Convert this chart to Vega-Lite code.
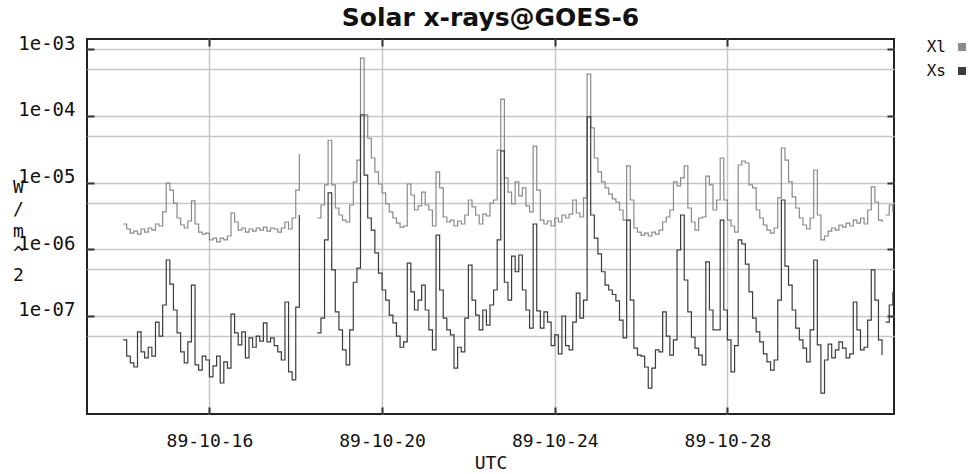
{
  "$schema": "https://vega.github.io/schema/vega-lite/v6.json",
  "width": 807,
  "height": 375,
  "autosize": {"type": "none"},
  "padding": {"left": 87, "top": 39, "right": 74, "bottom": 60},
  "background": "white",
  "title": {"text": "Solar x-rays@GOES-6", "font": "DejaVu Sans", "fontSize": 25, "fontWeight": "bold", "color": "#111111", "anchor": "middle", "frame": "group", "offset": 3},
  "data": {"values": [
    {"t":"1989-10-14T00:00Z","xl":2.39e-6,"xs":4.4e-8,"seg":"a"},
    {"t":"1989-10-14T02:00Z","xl":2.01e-6,"xs":2.5e-8,"seg":"a"},
    {"t":"1989-10-14T04:00Z","xl":1.75e-6,"xs":1.98e-8,"seg":"a"},
    {"t":"1989-10-14T06:00Z","xl":1.87e-6,"xs":1.72e-8,"seg":"a"},
    {"t":"1989-10-14T08:00Z","xl":1.69e-6,"xs":5.8e-8,"seg":"a"},
    {"t":"1989-10-14T10:00Z","xl":2.01e-6,"xs":2.9e-8,"seg":"a"},
    {"t":"1989-10-14T12:00Z","xl":1.81e-6,"xs":2.35e-8,"seg":"a"},
    {"t":"1989-10-14T14:00Z","xl":2.08e-6,"xs":3.4e-8,"seg":"a"},
    {"t":"1989-10-14T16:00Z","xl":1.94e-6,"xs":2.5e-8,"seg":"a"},
    {"t":"1989-10-14T18:00Z","xl":2.39e-6,"xs":8.1e-8,"seg":"a"},
    {"t":"1989-10-14T20:00Z","xl":2.23e-6,"xs":5.0e-8,"seg":"a"},
    {"t":"1989-10-14T22:00Z","xl":3.62e-6,"xs":1.46e-7,"seg":"a"},
    {"t":"1989-10-15T00:00Z","xl":9.8e-6,"xs":6.9e-7,"seg":"a"},
    {"t":"1989-10-15T02:00Z","xl":7.7e-6,"xs":3.0e-7,"seg":"a"},
    {"t":"1989-10-15T04:00Z","xl":4.9e-6,"xs":1.23e-7,"seg":"a"},
    {"t":"1989-10-15T06:00Z","xl":2.94e-6,"xs":5.6e-8,"seg":"a"},
    {"t":"1989-10-15T08:00Z","xl":2.31e-6,"xs":2.9e-8,"seg":"a"},
    {"t":"1989-10-15T10:00Z","xl":2.08e-6,"xs":1.98e-8,"seg":"a"},
    {"t":"1989-10-15T12:00Z","xl":2.65e-6,"xs":4.1e-8,"seg":"a"},
    {"t":"1989-10-15T14:00Z","xl":5.3e-6,"xs":2.9e-7,"seg":"a"},
    {"t":"1989-10-15T16:00Z","xl":2.39e-6,"xs":1.85e-8,"seg":"a"},
    {"t":"1989-10-15T18:00Z","xl":1.81e-6,"xs":1.55e-8,"seg":"a"},
    {"t":"1989-10-15T20:00Z","xl":1.69e-6,"xs":2.5e-8,"seg":"a"},
    {"t":"1989-10-15T22:00Z","xl":1.75e-6,"xs":2.19e-8,"seg":"a"},
    {"t":"1989-10-16T00:00Z","xl":1.38e-6,"xs":1.22e-8,"seg":"a"},
    {"t":"1989-10-16T02:00Z","xl":1.47e-6,"xs":1.79e-8,"seg":"a"},
    {"t":"1989-10-16T04:00Z","xl":1.29e-6,"xs":2.5e-8,"seg":"a"},
    {"t":"1989-10-16T06:00Z","xl":1.47e-6,"xs":9.9e-9,"seg":"a"},
    {"t":"1989-10-16T08:00Z","xl":1.38e-6,"xs":2.05e-8,"seg":"a"},
    {"t":"1989-10-16T10:00Z","xl":1.58e-6,"xs":1.66e-8,"seg":"a"},
    {"t":"1989-10-16T12:00Z","xl":3.49e-6,"xs":1.07e-7,"seg":"a"},
    {"t":"1989-10-16T14:00Z","xl":2.56e-6,"xs":5.6e-8,"seg":"a"},
    {"t":"1989-10-16T16:00Z","xl":1.94e-6,"xs":3.7e-8,"seg":"a"},
    {"t":"1989-10-16T18:00Z","xl":2.08e-6,"xs":5.8e-8,"seg":"a"},
    {"t":"1989-10-16T20:00Z","xl":1.81e-6,"xs":2.35e-8,"seg":"a"},
    {"t":"1989-10-16T22:00Z","xl":2.01e-6,"xs":4.7e-8,"seg":"a"},
    {"t":"1989-10-17T00:00Z","xl":1.87e-6,"xs":3.4e-8,"seg":"a"},
    {"t":"1989-10-17T02:00Z","xl":2.08e-6,"xs":5.0e-8,"seg":"a"},
    {"t":"1989-10-17T04:00Z","xl":1.94e-6,"xs":4.2e-8,"seg":"a"},
    {"t":"1989-10-17T06:00Z","xl":2.15e-6,"xs":7.9e-8,"seg":"a"},
    {"t":"1989-10-17T08:00Z","xl":1.87e-6,"xs":4.1e-8,"seg":"a"},
    {"t":"1989-10-17T10:00Z","xl":2.08e-6,"xs":4.7e-8,"seg":"a"},
    {"t":"1989-10-17T12:00Z","xl":2.01e-6,"xs":3.6e-8,"seg":"a"},
    {"t":"1989-10-17T14:00Z","xl":1.81e-6,"xs":2.9e-8,"seg":"a"},
    {"t":"1989-10-17T16:00Z","xl":2.08e-6,"xs":2.19e-8,"seg":"a"},
    {"t":"1989-10-17T18:00Z","xl":2.56e-6,"xs":1.62e-7,"seg":"a"},
    {"t":"1989-10-17T20:00Z","xl":2.01e-6,"xs":1.45e-8,"seg":"a"},
    {"t":"1989-10-17T22:00Z","xl":2.94e-6,"xs":1.1e-8,"seg":"a"},
    {"t":"1989-10-18T00:00Z","xl":7.7e-6,"xs":1.36e-7,"seg":"a"},
    {"t":"1989-10-18T02:00Z","xl":2.67e-5,"xs":3.26e-6,"seg":"a"},
    {"t":"1989-10-18T12:00Z","xl":2.94e-6,"xs":5.6e-8,"seg":"b"},
    {"t":"1989-10-18T14:00Z","xl":4.6e-6,"xs":9.3e-8,"seg":"b"},
    {"t":"1989-10-18T16:00Z","xl":9.2e-6,"xs":1.38e-6,"seg":"b"},
    {"t":"1989-10-18T18:00Z","xl":4.3e-5,"xs":7.0e-6,"seg":"b"},
    {"t":"1989-10-18T20:00Z","xl":9.2e-6,"xs":4.9e-7,"seg":"b"},
    {"t":"1989-10-18T22:00Z","xl":4.15e-6,"xs":1.15e-7,"seg":"b"},
    {"t":"1989-10-19T00:00Z","xl":3.26e-6,"xs":6.2e-8,"seg":"b"},
    {"t":"1989-10-19T02:00Z","xl":2.74e-6,"xs":3.1e-8,"seg":"b"},
    {"t":"1989-10-19T04:00Z","xl":2.56e-6,"xs":1.85e-8,"seg":"b"},
    {"t":"1989-10-19T06:00Z","xl":4.6e-6,"xs":6.2e-8,"seg":"b"},
    {"t":"1989-10-19T08:00Z","xl":1.02e-5,"xs":3.2e-7,"seg":"b"},
    {"t":"1989-10-19T10:00Z","xl":2.17e-5,"xs":5.2e-7,"seg":"b"},
    {"t":"1989-10-19T12:00Z","xl":7.3e-4,"xs":1.03e-4,"seg":"b"},
    {"t":"1989-10-19T14:00Z","xl":1.03e-4,"xs":1.29e-5,"seg":"b"},
    {"t":"1989-10-19T16:00Z","xl":4.6e-5,"xs":2.94e-6,"seg":"b"},
    {"t":"1989-10-19T18:00Z","xl":2.33e-5,"xs":1.94e-6,"seg":"b"},
    {"t":"1989-10-19T20:00Z","xl":1.44e-5,"xs":8.8e-7,"seg":"b"},
    {"t":"1989-10-19T22:00Z","xl":9.5e-6,"xs":4.4e-7,"seg":"b"},
    {"t":"1989-10-20T00:00Z","xl":7.0e-6,"xs":2.45e-7,"seg":"b"},
    {"t":"1989-10-20T02:00Z","xl":4.77e-6,"xs":1.73e-7,"seg":"b"},
    {"t":"1989-10-20T04:00Z","xl":3.62e-6,"xs":1.03e-7,"seg":"b"},
    {"t":"1989-10-20T06:00Z","xl":2.94e-6,"xs":7.9e-8,"seg":"b"},
    {"t":"1989-10-20T08:00Z","xl":2.47e-6,"xs":5.0e-8,"seg":"b"},
    {"t":"1989-10-20T10:00Z","xl":2.15e-6,"xs":3.4e-8,"seg":"b"},
    {"t":"1989-10-20T12:00Z","xl":2.23e-6,"xs":4.1e-8,"seg":"b"},
    {"t":"1989-10-20T14:00Z","xl":9.5e-6,"xs":6.2e-7,"seg":"b"},
    {"t":"1989-10-20T16:00Z","xl":6.5e-6,"xs":2.3e-7,"seg":"b"},
    {"t":"1989-10-20T18:00Z","xl":3.87e-6,"xs":1.23e-7,"seg":"b"},
    {"t":"1989-10-20T20:00Z","xl":4.45e-6,"xs":1.73e-7,"seg":"b"},
    {"t":"1989-10-20T22:00Z","xl":7.2e-6,"xs":2.9e-7,"seg":"b"},
    {"t":"1989-10-21T00:00Z","xl":4.6e-6,"xs":1.23e-7,"seg":"b"},
    {"t":"1989-10-21T02:00Z","xl":3.87e-6,"xs":6.2e-8,"seg":"b"},
    {"t":"1989-10-21T04:00Z","xl":2.23e-6,"xs":3.1e-8,"seg":"b"},
    {"t":"1989-10-21T06:00Z","xl":1.44e-5,"xs":1.63e-6,"seg":"b"},
    {"t":"1989-10-21T08:00Z","xl":8.3e-6,"xs":2.45e-7,"seg":"b"},
    {"t":"1989-10-21T10:00Z","xl":3.04e-6,"xs":9.3e-8,"seg":"b"},
    {"t":"1989-10-21T12:00Z","xl":2.56e-6,"xs":6.2e-8,"seg":"b"},
    {"t":"1989-10-21T14:00Z","xl":2.74e-6,"xs":5.2e-8,"seg":"b"},
    {"t":"1989-10-21T16:00Z","xl":2.23e-6,"xs":1.66e-8,"seg":"b"},
    {"t":"1989-10-21T18:00Z","xl":2.65e-6,"xs":3.4e-8,"seg":"b"},
    {"t":"1989-10-21T20:00Z","xl":2.39e-6,"xs":2.9e-8,"seg":"b"},
    {"t":"1989-10-21T22:00Z","xl":3.26e-6,"xs":9.3e-8,"seg":"b"},
    {"t":"1989-10-22T00:00Z","xl":5.47e-6,"xs":5.8e-7,"seg":"b"},
    {"t":"1989-10-22T02:00Z","xl":4.3e-6,"xs":1.73e-7,"seg":"b"},
    {"t":"1989-10-22T04:00Z","xl":3.26e-6,"xs":1.03e-7,"seg":"b"},
    {"t":"1989-10-22T06:00Z","xl":2.39e-6,"xs":6.2e-8,"seg":"b"},
    {"t":"1989-10-22T08:00Z","xl":3.37e-6,"xs":1.23e-7,"seg":"b"},
    {"t":"1989-10-22T10:00Z","xl":3.15e-6,"xs":7.3e-8,"seg":"b"},
    {"t":"1989-10-22T12:00Z","xl":4.93e-6,"xs":1.46e-7,"seg":"b"},
    {"t":"1989-10-22T14:00Z","xl":5.47e-6,"xs":2.45e-7,"seg":"b"},
    {"t":"1989-10-22T16:00Z","xl":3.07e-5,"xs":1.38e-6,"seg":"b"},
    {"t":"1989-10-22T18:00Z","xl":1.78e-4,"xs":2.97e-5,"seg":"b"},
    {"t":"1989-10-22T20:00Z","xl":1.17e-5,"xs":3.2e-7,"seg":"b"},
    {"t":"1989-10-22T22:00Z","xl":7.2e-6,"xs":1.73e-7,"seg":"b"},
    {"t":"1989-10-23T00:00Z","xl":4.77e-6,"xs":7.9e-7,"seg":"b"},
    {"t":"1989-10-23T02:00Z","xl":1.02e-5,"xs":4.6e-7,"seg":"b"},
    {"t":"1989-10-23T04:00Z","xl":6.3e-6,"xs":8.2e-7,"seg":"b"},
    {"t":"1989-10-23T06:00Z","xl":8.3e-6,"xs":2.45e-7,"seg":"b"},
    {"t":"1989-10-23T08:00Z","xl":4.45e-6,"xs":1.23e-7,"seg":"b"},
    {"t":"1989-10-23T10:00Z","xl":3.62e-6,"xs":6.6e-8,"seg":"b"},
    {"t":"1989-10-23T12:00Z","xl":3.52e-5,"xs":2.39e-6,"seg":"b"},
    {"t":"1989-10-23T14:00Z","xl":7.7e-6,"xs":1.19e-7,"seg":"b"},
    {"t":"1989-10-23T16:00Z","xl":2.74e-6,"xs":6.6e-8,"seg":"b"},
    {"t":"1989-10-23T18:00Z","xl":2.39e-6,"xs":1.15e-7,"seg":"b"},
    {"t":"1989-10-23T20:00Z","xl":2.65e-6,"xs":8.1e-8,"seg":"b"},
    {"t":"1989-10-23T22:00Z","xl":2.23e-6,"xs":3.6e-8,"seg":"b"},
    {"t":"1989-10-24T00:00Z","xl":2.94e-6,"xs":5.2e-8,"seg":"b"},
    {"t":"1989-10-24T02:00Z","xl":2.56e-6,"xs":2.7e-8,"seg":"b"},
    {"t":"1989-10-24T04:00Z","xl":3.26e-6,"xs":1.0e-7,"seg":"b"},
    {"t":"1989-10-24T06:00Z","xl":2.94e-6,"xs":3.6e-8,"seg":"b"},
    {"t":"1989-10-24T08:00Z","xl":3.37e-6,"xs":3.1e-8,"seg":"b"},
    {"t":"1989-10-24T10:00Z","xl":5.47e-6,"xs":8.1e-8,"seg":"b"},
    {"t":"1989-10-24T12:00Z","xl":3.49e-6,"xs":2.2e-7,"seg":"b"},
    {"t":"1989-10-24T14:00Z","xl":3.04e-6,"xs":9.3e-8,"seg":"b"},
    {"t":"1989-10-24T16:00Z","xl":5.9e-6,"xs":1.73e-7,"seg":"b"},
    {"t":"1989-10-24T18:00Z","xl":4.22e-4,"xs":9.6e-5,"seg":"b"},
    {"t":"1989-10-24T20:00Z","xl":6.6e-5,"xs":3.26e-6,"seg":"b"},
    {"t":"1989-10-24T22:00Z","xl":2.33e-5,"xs":1.47e-6,"seg":"b"},
    {"t":"1989-10-25T00:00Z","xl":1.44e-5,"xs":8.5e-7,"seg":"b"},
    {"t":"1989-10-25T02:00Z","xl":1.02e-5,"xs":4.6e-7,"seg":"b"},
    {"t":"1989-10-25T04:00Z","xl":8.3e-6,"xs":2.9e-7,"seg":"b"},
    {"t":"1989-10-25T06:00Z","xl":6.7e-6,"xs":2.45e-7,"seg":"b"},
    {"t":"1989-10-25T08:00Z","xl":5.7e-6,"xs":2.1e-7,"seg":"b"},
    {"t":"1989-10-25T10:00Z","xl":5.1e-6,"xs":1.68e-7,"seg":"b"},
    {"t":"1989-10-25T12:00Z","xl":3.87e-6,"xs":8.7e-8,"seg":"b"},
    {"t":"1989-10-25T14:00Z","xl":2.74e-6,"xs":4.7e-8,"seg":"b"},
    {"t":"1989-10-25T16:00Z","xl":1.77e-5,"xs":2.74e-6,"seg":"b"},
    {"t":"1989-10-25T18:00Z","xl":5.47e-6,"xs":1.73e-7,"seg":"b"},
    {"t":"1989-10-25T20:00Z","xl":2.08e-6,"xs":3.3e-8,"seg":"b"},
    {"t":"1989-10-25T22:00Z","xl":1.81e-6,"xs":2.6e-8,"seg":"b"},
    {"t":"1989-10-26T00:00Z","xl":1.63e-6,"xs":2.5e-8,"seg":"b"},
    {"t":"1989-10-26T02:00Z","xl":1.75e-6,"xs":1.72e-8,"seg":"b"},
    {"t":"1989-10-26T04:00Z","xl":1.58e-6,"xs":8.3e-9,"seg":"b"},
    {"t":"1989-10-26T06:00Z","xl":1.81e-6,"xs":1.66e-8,"seg":"b"},
    {"t":"1989-10-26T08:00Z","xl":1.69e-6,"xs":3.1e-8,"seg":"b"},
    {"t":"1989-10-26T10:00Z","xl":1.94e-6,"xs":2.9e-8,"seg":"b"},
    {"t":"1989-10-26T12:00Z","xl":2.56e-6,"xs":1.15e-7,"seg":"b"},
    {"t":"1989-10-26T14:00Z","xl":3.04e-6,"xs":5.0e-8,"seg":"b"},
    {"t":"1989-10-26T16:00Z","xl":3.87e-6,"xs":2.6e-8,"seg":"b"},
    {"t":"1989-10-26T18:00Z","xl":1.02e-5,"xs":4.4e-8,"seg":"b"},
    {"t":"1989-10-26T20:00Z","xl":8.9e-6,"xs":9.75e-7,"seg":"b"},
    {"t":"1989-10-26T22:00Z","xl":1.17e-5,"xs":3.26e-6,"seg":"b"},
    {"t":"1989-10-27T00:00Z","xl":1.77e-5,"xs":3.46e-7,"seg":"b"},
    {"t":"1989-10-27T02:00Z","xl":4.15e-6,"xs":1.15e-7,"seg":"b"},
    {"t":"1989-10-27T04:00Z","xl":2.56e-6,"xs":4.8e-8,"seg":"b"},
    {"t":"1989-10-27T06:00Z","xl":1.94e-6,"xs":3.3e-8,"seg":"b"},
    {"t":"1989-10-27T08:00Z","xl":2.94e-6,"xs":2.6e-8,"seg":"b"},
    {"t":"1989-10-27T10:00Z","xl":3.04e-6,"xs":1.85e-8,"seg":"b"},
    {"t":"1989-10-27T12:00Z","xl":1.25e-5,"xs":6.45e-7,"seg":"b"},
    {"t":"1989-10-27T14:00Z","xl":9.2e-6,"xs":1.23e-7,"seg":"b"},
    {"t":"1989-10-27T16:00Z","xl":3.87e-6,"xs":6.2e-8,"seg":"b"},
    {"t":"1989-10-27T18:00Z","xl":5.47e-6,"xs":6.2e-8,"seg":"b"},
    {"t":"1989-10-27T20:00Z","xl":2.33e-5,"xs":2.74e-6,"seg":"b"},
    {"t":"1989-10-27T22:00Z","xl":5.47e-6,"xs":1.23e-7,"seg":"b"},
    {"t":"1989-10-28T00:00Z","xl":2.74e-6,"xs":4.4e-8,"seg":"b"},
    {"t":"1989-10-28T02:00Z","xl":2.23e-6,"xs":1.45e-8,"seg":"b"},
    {"t":"1989-10-28T04:00Z","xl":1.81e-6,"xs":3.6e-8,"seg":"b"},
    {"t":"1989-10-28T06:00Z","xl":1.83e-5,"xs":1.38e-6,"seg":"b"},
    {"t":"1989-10-28T08:00Z","xl":2.1e-5,"xs":1.2e-6,"seg":"b"},
    {"t":"1989-10-28T10:00Z","xl":1.96e-5,"xs":6.0e-7,"seg":"b"},
    {"t":"1989-10-28T12:00Z","xl":9.2e-6,"xs":2.3e-7,"seg":"b"},
    {"t":"1989-10-28T14:00Z","xl":8.3e-6,"xs":9.3e-8,"seg":"b"},
    {"t":"1989-10-28T16:00Z","xl":3.87e-6,"xs":5.8e-8,"seg":"b"},
    {"t":"1989-10-28T18:00Z","xl":2.94e-6,"xs":4.1e-8,"seg":"b"},
    {"t":"1989-10-28T20:00Z","xl":2.31e-6,"xs":2.7e-8,"seg":"b"},
    {"t":"1989-10-28T22:00Z","xl":1.94e-6,"xs":2.05e-8,"seg":"b"},
    {"t":"1989-10-29T00:00Z","xl":1.75e-6,"xs":1.55e-8,"seg":"b"},
    {"t":"1989-10-29T02:00Z","xl":2.08e-6,"xs":2.19e-8,"seg":"b"},
    {"t":"1989-10-29T04:00Z","xl":5.9e-6,"xs":1.73e-7,"seg":"b"},
    {"t":"1989-10-29T06:00Z","xl":3.29e-5,"xs":5.47e-6,"seg":"b"},
    {"t":"1989-10-29T08:00Z","xl":2.17e-5,"xs":5.6e-7,"seg":"b"},
    {"t":"1989-10-29T10:00Z","xl":1.02e-5,"xs":2.9e-7,"seg":"b"},
    {"t":"1989-10-29T12:00Z","xl":6.1e-6,"xs":1.23e-7,"seg":"b"},
    {"t":"1989-10-29T14:00Z","xl":4.15e-6,"xs":6.6e-8,"seg":"b"},
    {"t":"1989-10-29T16:00Z","xl":2.94e-6,"xs":4.4e-8,"seg":"b"},
    {"t":"1989-10-29T18:00Z","xl":2.31e-6,"xs":3.3e-8,"seg":"b"},
    {"t":"1989-10-29T20:00Z","xl":2.01e-6,"xs":2.05e-8,"seg":"b"},
    {"t":"1989-10-29T22:00Z","xl":2.94e-6,"xs":6.2e-8,"seg":"b"},
    {"t":"1989-10-30T00:00Z","xl":1.54e-5,"xs":6.9e-7,"seg":"b"},
    {"t":"1989-10-30T02:00Z","xl":3.26e-6,"xs":3.7e-8,"seg":"b"},
    {"t":"1989-10-30T04:00Z","xl":1.38e-6,"xs":7.0e-9,"seg":"b"},
    {"t":"1989-10-30T06:00Z","xl":1.58e-6,"xs":2.19e-8,"seg":"b"},
    {"t":"1989-10-30T08:00Z","xl":1.87e-6,"xs":3.8e-8,"seg":"b"},
    {"t":"1989-10-30T10:00Z","xl":2.08e-6,"xs":2.35e-8,"seg":"b"},
    {"t":"1989-10-30T12:00Z","xl":1.94e-6,"xs":3.1e-8,"seg":"b"},
    {"t":"1989-10-30T14:00Z","xl":2.31e-6,"xs":4.1e-8,"seg":"b"},
    {"t":"1989-10-30T16:00Z","xl":2.15e-6,"xs":3.3e-8,"seg":"b"},
    {"t":"1989-10-30T18:00Z","xl":2.47e-6,"xs":2.35e-8,"seg":"b"},
    {"t":"1989-10-30T20:00Z","xl":2.23e-6,"xs":2.7e-8,"seg":"b"},
    {"t":"1989-10-30T22:00Z","xl":2.74e-6,"xs":1.62e-7,"seg":"b"},
    {"t":"1989-10-31T00:00Z","xl":2.47e-6,"xs":6.2e-8,"seg":"b"},
    {"t":"1989-10-31T02:00Z","xl":2.94e-6,"xs":3.1e-8,"seg":"b"},
    {"t":"1989-10-31T04:00Z","xl":2.39e-6,"xs":3.4e-8,"seg":"b"},
    {"t":"1989-10-31T06:00Z","xl":3.87e-6,"xs":8.7e-8,"seg":"b"},
    {"t":"1989-10-31T08:00Z","xl":8.6e-6,"xs":4.9e-7,"seg":"b"},
    {"t":"1989-10-31T10:00Z","xl":5.1e-6,"xs":1.73e-7,"seg":"b"},
    {"t":"1989-10-31T12:00Z","xl":2.74e-6,"xs":4.4e-8,"seg":"b"},
    {"t":"1989-10-31T14:00Z","xl":2.56e-6,"xs":2.6e-8,"seg":"b"},
    {"t":"1989-10-31T16:00Z","xl":3.26e-6,"xs":8.1e-8,"seg":"c"},
    {"t":"1989-10-31T18:00Z","xl":4.6e-6,"xs":1.46e-7,"seg":"c"},
    {"t":"1989-10-31T20:00Z","xl":3.62e-6,"xs":2.3e-7,"seg":"c"}
  ]},
  "layer": [
    {
      "mark": {"type": "line", "interpolate": "step-after", "strokeWidth": 1.2, "clip": true},
      "encoding": {
        "x": {"field": "t", "type": "temporal",
          "scale": {"type": "utc", "nice": false, "domain": [{"year": 1989, "month": 10, "date": 13, "hours": 3, "minutes": 56, "utc": true}, {"year": 1989, "month": 10, "date": 31, "hours": 20, "minutes": 38, "utc": true}]},
          "axis": {"orient": "bottom",
            "values": [{"year": 1989, "month": 10, "date": 16, "utc": true}, {"year": 1989, "month": 10, "date": 20, "utc": true}, {"year": 1989, "month": 10, "date": 24, "utc": true}, {"year": 1989, "month": 10, "date": 28, "utc": true}],
            "format": "%y-%m-%d", "grid": true, "gridColor": "#c6c6c6", "gridWidth": 1.5, "domain": false,
            "tickSize": -7, "tickColor": "#333333", "tickWidth": 2,
            "labelFont": "DejaVu Sans Mono", "labelFontSize": 18, "labelColor": "#111111", "labelPadding": 25, "labelBaseline": "top", "labelFlush": false, "labelOverlap": false,
            "title": "UTC", "titleFont": "DejaVu Sans Mono", "titleFontSize": 18, "titleFontWeight": "normal", "titleColor": "#111111", "titleX": 403.5, "titleY": 40, "titleBaseline": "top", "titleAlign": "center"}},
        "y": {"field": "xl", "type": "quantitative",
          "scale": {"type": "log", "nice": false, "zero": false, "domain": [3.4e-9, 1.413e-3]},
          "axis": {"orient": "left",
            "values": [1e-3, 5e-4, 1e-4, 5e-5, 1e-5, 5e-6, 1e-6, 5e-7, 1e-7, 5e-8],
            "grid": true, "gridColor": "#c6c6c6", "gridWidth": 1.5, "domain": false,
            "tickSize": -7, "tickColor": "#333333", "tickWidth": 2,
            "tickOpacity": {"condition": {"test": "abs(log(datum.value)/LN10 - round(log(datum.value)/LN10)) < 0.01", "value": 1}, "value": 0},
            "labelExpr": "abs(log(datum.value)/LN10 - round(log(datum.value)/LN10)) < 0.01 ? '1e-0' + round(-log(datum.value)/LN10) : ''",
            "labelFont": "DejaVu Sans Mono", "labelFontSize": 19, "labelColor": "#111111", "labelPadding": 19, "labelBaseline": "alphabetic", "labelAlign": "right", "labelOverlap": false, "labelFlush": false,
            "title": ["W", "/", "m", "^", "2"], "titleAngle": 0, "titleX": -69, "titleY": 139, "titleBaseline": "top", "titleAlign": "center",
            "titleFont": "DejaVu Sans Mono", "titleFontSize": 18, "titleFontWeight": "normal", "titleLineHeight": 22, "titleColor": "#111111"}},
        "detail": {"field": "seg"},
        "color": {"datum": "Xl",
          "scale": {"domain": ["Xl", "Xs"], "range": ["#8a8a8a", "#3c3c3c"]},
          "legend": {"orient": "none", "legendX": 867, "legendY": 0, "direction": "vertical", "title": null, "padding": 0,
            "symbolType": "square", "symbolSize": 64, "symbolStrokeWidth": 0,
            "labelAlign": "right", "labelOffset": -24, "labelFont": "DejaVu Sans Mono", "labelFontSize": 16, "labelColor": "#111111", "rowPadding": 8,
            "encode": {"symbols": {"update": {"fill": {"scale": "color", "field": "value"}, "fillOpacity": {"value": 1}}}}}}
      }
    },
    {
      "mark": {"type": "line", "interpolate": "step-after", "strokeWidth": 1.2, "clip": true},
      "encoding": {
        "x": {"field": "t", "type": "temporal",
          "axis": {"orient": "top",
            "values": [{"year": 1989, "month": 10, "date": 16, "utc": true}, {"year": 1989, "month": 10, "date": 20, "utc": true}, {"year": 1989, "month": 10, "date": 24, "utc": true}, {"year": 1989, "month": 10, "date": 28, "utc": true}],
            "grid": false, "domain": false, "labels": false, "tickSize": -7, "tickColor": "#333333", "tickWidth": 2, "title": null}},
        "y": {"field": "xs", "type": "quantitative",
          "axis": {"orient": "right", "values": [1e-3, 1e-4, 1e-5, 1e-6, 1e-7],
            "grid": false, "domain": false, "labels": false, "tickSize": -7, "tickColor": "#333333", "tickWidth": 2, "title": null}},
        "detail": {"field": "seg"},
        "color": {"datum": "Xs"}
      }
    }
  ],
  "resolve": {"axis": {"x": "independent", "y": "independent"}},
  "config": {
    "view": {"stroke": "#222222", "strokeWidth": 2}
  }
}
